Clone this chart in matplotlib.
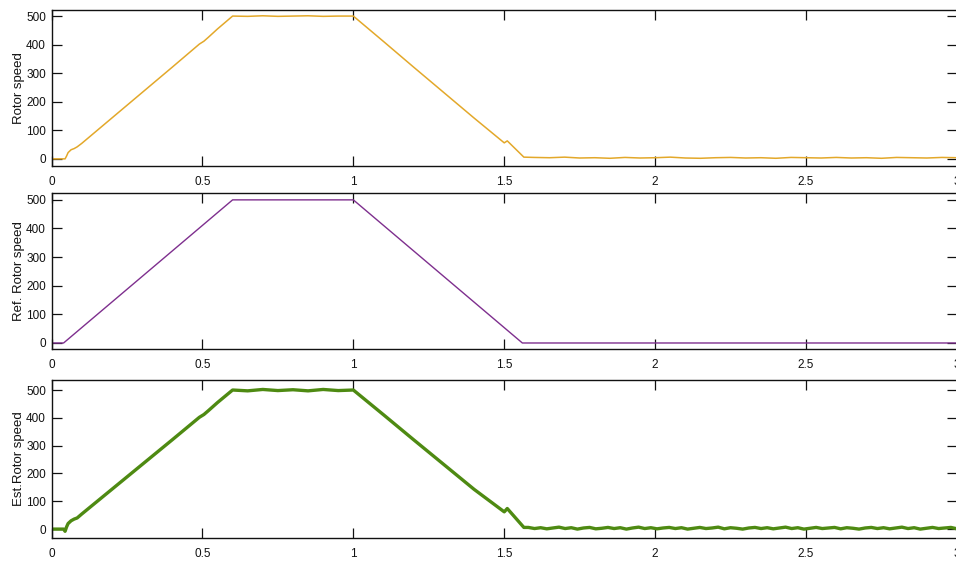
import numpy as np
import matplotlib
matplotlib.use("Agg")
import matplotlib.pyplot as plt

plt.rcParams['font.family'] = ['Liberation Sans', 'DejaVu Sans']

# ---------------- data ----------------
x_ticks = [0, 0.5, 1, 1.5, 2, 2.5, 3]
x_tick_labels = ['0', '0.5', '1', '1.5', '2', '2.5', '3']
y_ticks = [0, 100, 200, 300, 400, 500]

# reference rotor speed (trapezoid)
ref_t = [0.0, 0.04, 0.60, 1.00, 1.56, 3.0]
ref_v = [0.0, 0.0, 500.0, 500.0, 0.0, 0.0]

# measured rotor speed: main shape
rot_t = [0.0, 0.045, 0.05, 0.055, 0.065, 0.075, 0.085, 0.10, 0.20, 0.30, 0.40,
         0.49, 0.505, 0.52, 0.55, 0.60, 0.65, 0.70, 0.75, 0.80, 0.85, 0.90, 0.95,
         1.00, 1.10, 1.20, 1.30, 1.40, 1.50, 1.51, 1.565]
rot_v = [0.0, 0.0, 10, 22, 32, 36, 42, 54, 143, 232, 321,
         402, 412, 426, 455, 500, 499, 501, 499, 500, 501, 499, 500,
         500, 411, 321, 232, 143, 56, 63, 6]
# measured rotor speed: steady tail after 1.6 s (every 0.05 s)
rot_tail_v = [5, 4, 6, 3, 4, 2, 5, 3, 4, 6, 3, 2, 4, 5, 3, 4, 2, 5, 4, 3,
              5, 3, 4, 2, 5, 4, 3, 5, 4]

# estimated rotor speed: main shape
est_t = [0.0, 0.040, 0.045, 0.050, 0.055, 0.065, 0.075, 0.085, 0.10, 0.20, 0.30,
         0.40, 0.49, 0.505, 0.52, 0.55, 0.60, 0.65, 0.70, 0.75, 0.80, 0.85,
         0.90, 0.95, 1.00, 1.10, 1.20, 1.30, 1.40, 1.50, 1.51, 1.565]
est_v = [0.0, 0.0, -8, 8, 20, 30, 36, 40, 54, 143, 232,
         321, 402, 412, 426, 455, 500, 497, 502, 498, 501, 497, 502, 498,
         500, 411, 321, 232, 143, 62, 74, 6]
# estimated rotor speed: noisy steady tail after 1.58 s (every 0.02 s)
est_tail_v = [6, 2, 5, 1, 4, 7, 2, 5, 0, 4, 6, 1, 3, 6, 2, 5, 0, 4, 7, 2,
              5, 1, 4, 6, 2, 5, 0, 3, 6, 2, 4, 7, 1, 5, 3, 0, 4, 6, 2, 5,
              1, 4, 7, 2, 5, 0, 3, 6, 2, 4, 6, 1, 5, 3, 0, 4, 6, 2, 5, 1,
              4, 7, 2, 5, 0, 3, 6, 2, 4, 6, 1]

rot_tail_t = np.linspace(1.6, 3.0, len(rot_tail_v))
est_tail_t = np.linspace(1.58, 3.0, len(est_tail_v))

rotor_t = np.concatenate([rot_t, rot_tail_t])
rotor_v = np.concatenate([rot_v, rot_tail_v])
estim_t = np.concatenate([est_t, est_tail_t])
estim_v = np.concatenate([est_v, est_tail_v])

# ---------------- figure ----------------
W, H = 956, 562
fig = plt.figure(figsize=(W / 100, H / 100), dpi=100)
fig.patch.set_facecolor('white')

left = 51.5 / W
width = (957 - 51.5) / W

panels = [
    dict(top=9.5, bottom=166, ylim=(-25, 523), t=rotor_t, v=rotor_v,
         color='#E3A82A', lw=1.1, label='Rotor speed'),
    dict(top=193, bottom=349, ylim=(-21, 524), t=ref_t, v=ref_v,
         color='#7E2F8E', lw=1.0, label='Ref. Rotor speed'),
    dict(top=380, bottom=538, ylim=(-32, 536), t=estim_t, v=estim_v,
         color='#4E8A12', lw=2.4, label='Est.Rotor speed'),
]

for p in panels:
    ax = fig.add_axes([left, 1 - p['bottom'] / H, width,
                       (p['bottom'] - p['top']) / H])
    ax.plot(p['t'], p['v'], color=p['color'], lw=p['lw'])
    ax.set_xlim(0, 3.0)
    ax.set_ylim(*p['ylim'])
    ax.set_xticks(x_ticks)
    ax.set_xticklabels(x_tick_labels)
    ax.set_yticks(y_ticks)
    ax.tick_params(direction='in', length=7, width=0.9, labelsize=8.5,
                   top=True, right=True, colors='#111111')
    ax.tick_params(axis='x', pad=7.5)
    ax.tick_params(axis='y', pad=4)
    for s in ax.spines.values():
        s.set_linewidth(1.0)
        s.set_color('#111111')
    ax.set_ylabel(p['label'], fontsize=9.5, color='#111111')
    ax.yaxis.set_label_coords(-0.029, 0.5)

fig.savefig('out.png', dpi=100, facecolor='white')
